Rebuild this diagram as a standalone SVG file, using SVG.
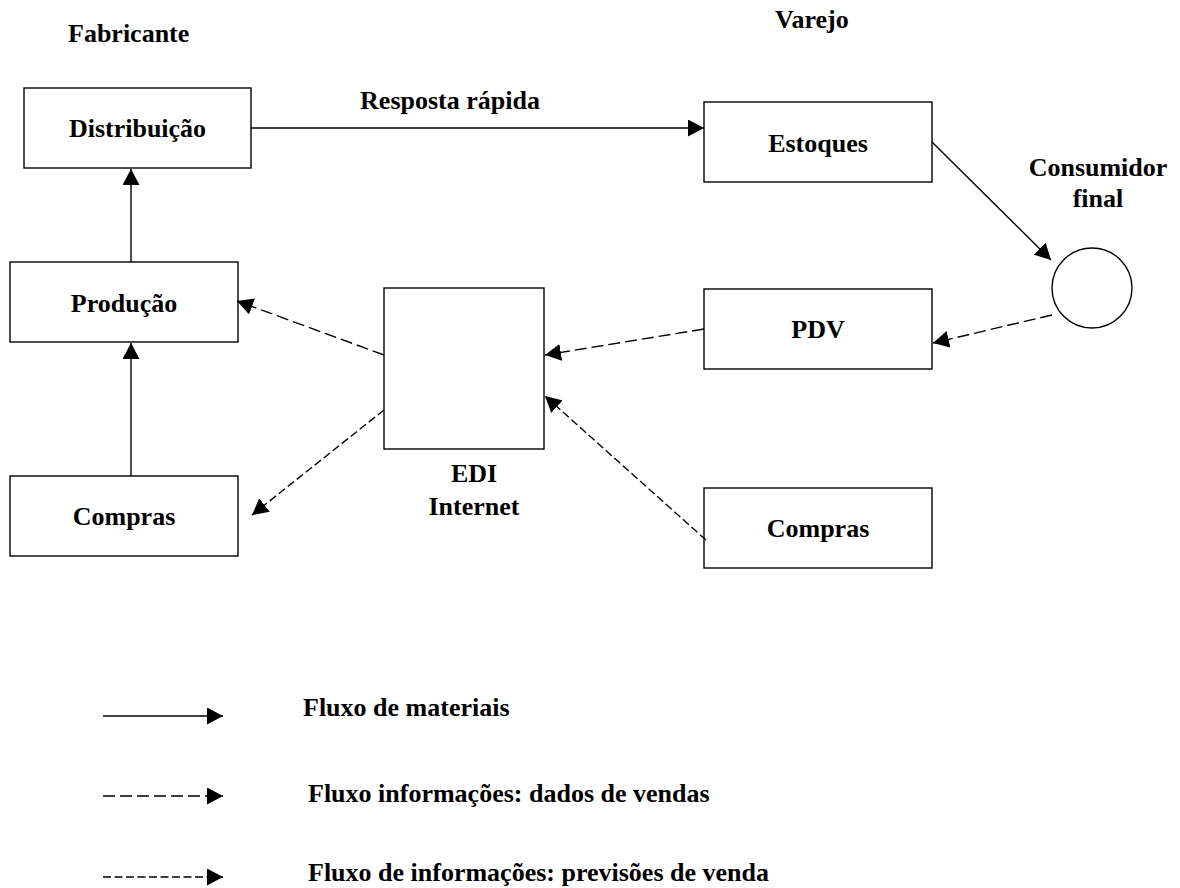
<svg xmlns="http://www.w3.org/2000/svg" width="1180" height="888" viewBox="0 0 1180 888">
<style>
.box{fill:#fff;stroke:#000;stroke-width:1.4}
.t{font-family:"Liberation Serif","Times New Roman",serif;font-weight:bold;font-size:26px;fill:#000}
.c{text-anchor:middle}
.ln{stroke:#000;stroke-width:1.4;fill:none}
.d1{stroke-dasharray:12 5}
.d2{stroke-dasharray:8 3.5}
</style>
<defs>
<marker id="ah" viewBox="0 0 16 17" refX="16" refY="8.5" markerWidth="16" markerHeight="17" markerUnits="userSpaceOnUse" orient="auto">
<path d="M0,0 L16,8.5 L0,17 Z" fill="#000"/>
</marker>
</defs>
<text class="t" x="68" y="42">Fabricante</text>
<text class="t" x="775" y="28">Varejo</text>
<g id="distribuicao"><rect class="box" x="24" y="88" width="227" height="80"/><text class="t c" x="137.5" y="137">Distribuição</text></g>
<g id="producao"><rect class="box" x="10" y="262" width="228" height="80"/><text class="t c" x="124" y="312">Produção</text></g>
<g id="compras-fab"><rect class="box" x="10" y="476" width="228" height="80"/><text class="t c" x="124" y="525">Compras</text></g>
<g id="estoques"><rect class="box" x="704" y="102" width="228" height="80"/><text class="t c" x="818" y="152">Estoques</text></g>
<g id="pdv"><rect class="box" x="704" y="289" width="228" height="80"/><text class="t c" x="818" y="338">PDV</text></g>
<g id="compras-var"><rect class="box" x="704" y="488" width="228" height="80"/><text class="t c" x="818" y="537">Compras</text></g>
<g id="edi"><rect class="box" x="384" y="288" width="160" height="161"/><text class="t c" x="474" y="482">EDI</text><text class="t c" x="474" y="515">Internet</text></g>
<g id="consumidor"><circle class="box" cx="1092" cy="288" r="40"/><text class="t c" x="1098" y="176">Consumidor</text><text class="t c" x="1098" y="207">final</text></g>
<text class="t c" x="450" y="109">Resposta rápida</text>
<g id="connectors">
<line class="ln" x1="251" y1="128" x2="704" y2="128" marker-end="url(#ah)"/>
<line class="ln" x1="131" y1="262" x2="131" y2="169" marker-end="url(#ah)"/>
<line class="ln" x1="131" y1="476" x2="131" y2="343" marker-end="url(#ah)"/>
<line class="ln" x1="932" y1="142" x2="1051" y2="260" marker-end="url(#ah)"/>
<line class="ln d1" x1="1052" y1="315" x2="933" y2="343" marker-end="url(#ah)"/>
<line class="ln d1" x1="704" y1="329" x2="545" y2="355" marker-end="url(#ah)"/>
<line class="ln d1" x1="384" y1="355" x2="237" y2="301" marker-end="url(#ah)"/>
<line class="ln d2" x1="384" y1="410" x2="252" y2="515" marker-end="url(#ah)"/>
<line class="ln d2" x1="706" y1="540" x2="545" y2="396" marker-end="url(#ah)"/>
</g>
<g id="legend">
<line class="ln" x1="103" y1="716" x2="223" y2="716" marker-end="url(#ah)"/>
<text class="t" x="303" y="716">Fluxo de materiais</text>
<line class="ln d1" x1="103" y1="796" x2="223" y2="796" marker-end="url(#ah)"/>
<text class="t" x="308" y="802">Fluxo informações: dados de vendas</text>
<line class="ln d2" x1="103" y1="877" x2="223" y2="877" marker-end="url(#ah)"/>
<text class="t" x="308" y="881">Fluxo de informações: previsões de venda</text>
</g>
</svg>
